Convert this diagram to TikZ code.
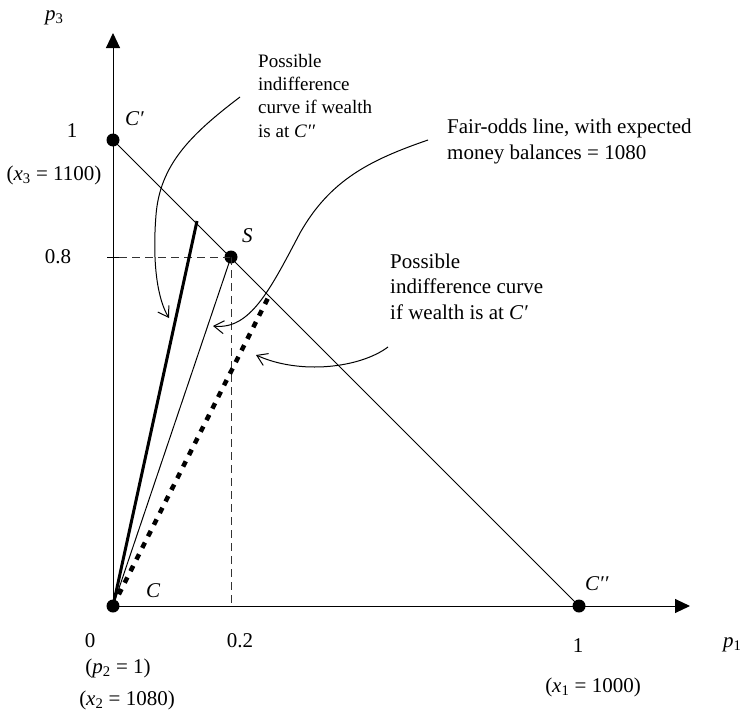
\documentclass[tikz,border=0pt]{standalone}
\usepackage{fontspec}
\setmainfont{Liberation Serif}
\usetikzlibrary{arrows.meta}
\tikzset{
  lbl/.style={inner sep=0pt, font=\fontsize{21}{25.5}\selectfont},
  smalllbl/.style={inner sep=0pt, font=\fontsize{19}{23.3}\selectfont},
  dotnode/.style={circle, fill=black, inner sep=0pt, minimum size=13pt},
  axis/.style={line width=1pt, -{Triangle[length=15pt,width=14pt]}},
  thin/.style={line width=1pt},
  guide/.style={line width=1pt, black!80, dash pattern=on 8pt off 5pt},
  pointer/.style={line width=1pt, -{Straight Barb[length=10pt,width=13pt,line width=1pt]}},
}
\begin{document}
\begin{tikzpicture}[x=1pt,y=-1pt]
\useasboundingbox (0,0) rectangle (742,712);

% key points
\node[dotnode] (C) at (113,606) {};
\node[dotnode] (Cp) at (113,140) {};
\node[dotnode] (Cpp) at (579,606) {};
\node[dotnode] (S) at (231,257) {};
\coordinate (ytip) at (113,33);
\coordinate (xtip) at (690,606);
\coordinate (thickEnd) at (197,221);
\coordinate (dotEnd) at (268,298);
\coordinate (tickL) at (107,257);
\coordinate (tickR) at (119,257);
\coordinate (Sfoot) at (231,606);

% axes
\draw[axis] (C.center) -- (ytip);
\draw[axis] (C.center) -- (xtip);

% fair-odds line
\draw[thin] (Cp.center) -- (Cpp.center);

% guides to S
\draw[thin] (tickL) -- (tickR);
\draw[guide] (tickR) -- (S.center);
\draw[guide] (S.center) -- (Sfoot);

% indifference curves
\draw[line width=3pt] (C.center) -- (thickEnd);
\draw[thin] (C.center) -- (S.center);
\draw[line width=4.5pt, dash pattern=on 6pt off 7pt] (C.center) -- (dotEnd);

% labels
\node[lbl, anchor=base west] (p3) at (45,20) {\textit{p}\textsubscript{3}};
\node[lbl, anchor=base] (one3) at (72,137) {1};
\node[lbl, anchor=base] (x3) at (54,180) {(\textit{x}\textsubscript{3} = 1100)};
\node[lbl, anchor=base] (eight) at (58,263) {0.8};
\node[lbl, anchor=base west] (Cplab) at (125,125) {\textit{C′}};
\node[lbl, anchor=base west] (Slab) at (242,242) {\textit{S}};
\node[lbl, anchor=base west] (Clab) at (146,597) {\textit{C}};
\node[lbl, anchor=base west] (Cpplab) at (585,590) {\textit{C′′}};
\node[lbl, anchor=base] (zero) at (90,647) {0};
\node[lbl, anchor=base] (p2) at (118,673) {(\textit{p}\textsubscript{2} = 1)};
\node[lbl, anchor=base] (x2) at (127,705) {(\textit{x}\textsubscript{2} = 1080)};
\node[lbl, anchor=base] (twotenth) at (240,647) {0.2};
\node[lbl, anchor=base] (one1) at (578,652) {1};
\node[lbl, anchor=base] (x1) at (593,692) {(\textit{x}\textsubscript{1} = 1000)};
\node[lbl, anchor=base west] (p1) at (723,647) {\textit{p}\textsubscript{1}};

% multi-line notes: base anchor = baseline of last line
\node[smalllbl, anchor=base west, align=left] (noteA) at (258,137)
  {Possible\\indifference\\curve if wealth\\is at \textit{C′′}};
\node[lbl, anchor=base west, align=left] (noteB) at (447,159)
  {Fair-odds line, with expected\\money balances = 1080};
\node[lbl, anchor=base west, align=left] (noteC) at (390,319)
  {Possible\\indifference curve\\if wealth is at \textit{C′}};

% pointer arrows
\coordinate (aS) at (240,97);
\coordinate (aE) at (169,318);
\coordinate (bS) at (428,140);
\coordinate (bE) at (213,326);
\coordinate (cS) at (388,347);
\coordinate (cE) at (256,355);
\draw[pointer] (aS) .. controls (190,135) and (160,165) .. (156,215)
  .. controls (152,265) and (158,300) .. (aE);
\draw[pointer] (bS) .. controls (370,160) and (330,180) .. (300,233)
  .. controls (270,290) and (250,330) .. (bE);
\draw[pointer] (cS) .. controls (360,368) and (300,375) .. (cE);
\end{tikzpicture}
\end{document}
